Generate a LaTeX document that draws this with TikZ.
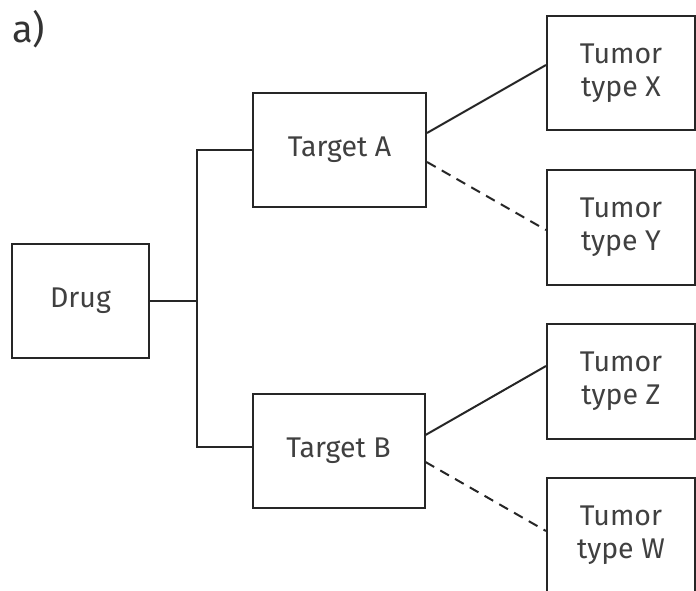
\documentclass[tikz,border=0pt]{standalone}
\usepackage{fontspec}
\setmainfont{Fira Sans}
\begin{document}
\begin{tikzpicture}[x=1pt,y=-1pt,
  ink/.style={draw=black!85, line width=2pt},
  box/.style={ink, rectangle, inner sep=0pt, text=black!75, align=center,
    font=\fontsize{28.5}{33}\selectfont},
  link/.style={ink, line cap=butt},
  weak/.style={link, dash pattern=on 10pt off 7pt}]
  \useasboundingbox (0,0) rectangle (696,590);
  \clip (0,0) rectangle (696,590);

  % panel label
  \node[anchor=base west, inner sep=0pt, text=black!80,
        font=\fontsize{38}{40}\selectfont] (lbl) at (12,42) {a)};

  % boxes
  \node[box, minimum width=137pt, minimum height=114pt] (drug) at (80.5,301) {Drug};
  \node[box, minimum width=173pt, minimum height=114pt] (ta) at (339.5,150) {Target A};
  \node[box, minimum width=172pt, minimum height=114pt] (tb) at (338.5,451) {Target B};
  \node[box, minimum width=148pt, minimum height=114pt] (tx) at (621,73) {Tumor\\type X};
  \node[box, minimum width=148pt, minimum height=115pt] (ty) at (621,227.5) {Tumor\\type Y};
  \node[box, minimum width=148pt, minimum height=115pt] (tz) at (621,381.5) {Tumor\\type Z};
  \node[box, minimum width=148pt, minimum height=114pt] (tw) at (621,535) {Tumor\\type W};

  % drug branches to both targets
  \coordinate (j) at (197,301);
  \draw[link] (drug.east) -- (j);
  \draw[link] (ta.west) -| (j) |- ([yshift=4pt]tb.west);

  % target to tumor links
  \draw[link] ([yshift=17pt]ta.east) -- ([yshift=8pt]tx.west);
  \draw[weak] ([yshift=-12pt]ta.east) -- ([yshift=-2.5pt]ty.west);
  \draw[link] ([yshift=16pt]tb.east) -- ([yshift=15.5pt]tz.west);
  \draw[weak] ([yshift=-11pt]tb.east) -- ([yshift=4pt]tw.west);
\end{tikzpicture}
\end{document}
